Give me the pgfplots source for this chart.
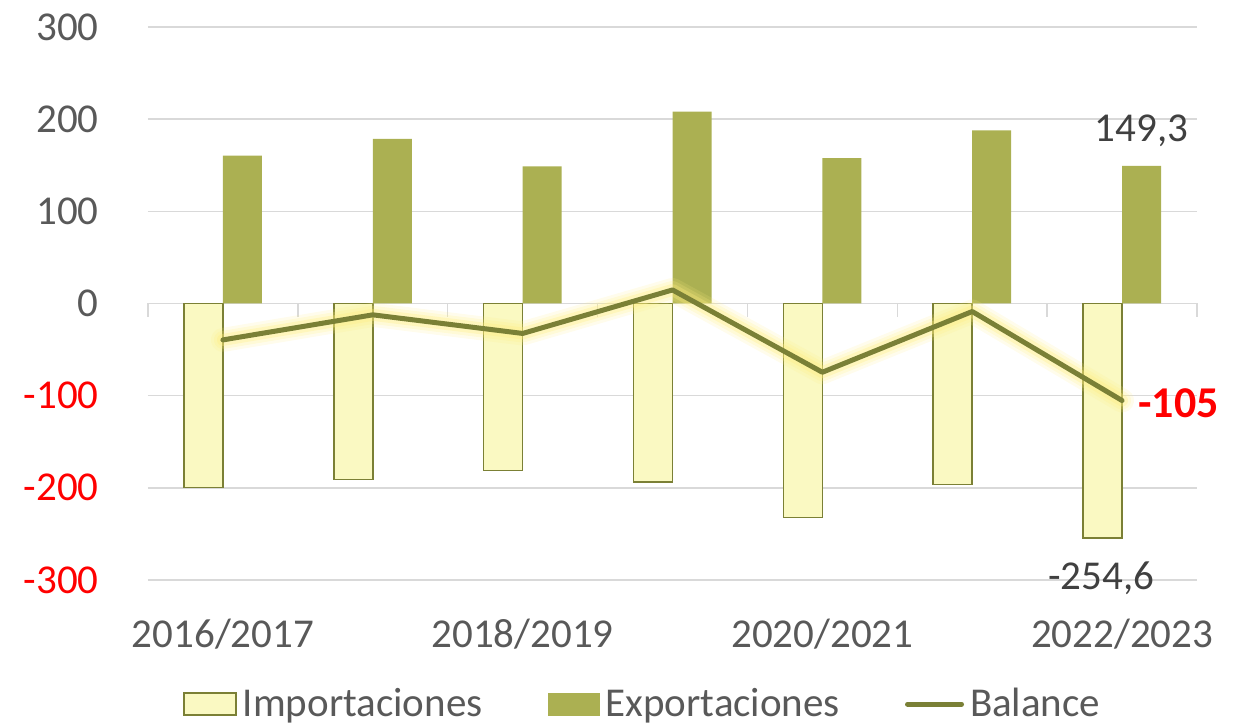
\documentclass[border=0pt]{standalone}
\usepackage{pgfplots}
\pgfplotsset{compat=1.18}
\usepackage{fontspec}
\setmainfont{Carlito}
\definecolor{expcol}{HTML}{ABB052}
\definecolor{impfill}{HTML}{FAF9C2}
\definecolor{impedge}{HTML}{7B8035}
\definecolor{balcol}{HTML}{7A8036}
\definecolor{glowcol}{HTML}{FFEE80}
\definecolor{gridgray}{HTML}{D9D9D9}
\definecolor{txtgray}{HTML}{595959}
\definecolor{lblgray}{HTML}{404040}
\newcommand\lbl{\fontsize{20.5pt}{24pt}\selectfont}
\begin{document}
\begin{tikzpicture}
\useasboundingbox (-74pt,-73pt) rectangle (550pt,290pt);
\begin{axis}[
  at={(0pt,0pt)}, anchor=south west,
  scale only axis, width=524.5pt, height=276.5pt,
  xmin=-0.5, xmax=6.5, ymin=-300, ymax=300,
  ytick={-300,-200,-100,0,100,200,300},
  yticklabels={\textcolor{red}{-300},\textcolor{red}{-200},\textcolor{red}{-100},0,100,200,300},
  xtick={0,2,4,6},
  xticklabels={2016/2017,2018/2019,2020/2021,2022/2023},
  major tick length=0pt,
  ymajorgrids, grid style={color=gridgray, line width=0.75pt},
  axis line style={draw=none},
  clip=false,
  tick label style={font=\lbl, text=txtgray},
  yticklabel style={anchor=east, inner sep=0pt, xshift=-24.5pt},
  xticklabel style={anchor=base, inner sep=0pt, yshift=-34pt},
  legend columns=3,
  legend style={draw=none, fill=none, font=\lbl, text=txtgray,
    at={(axis description cs:0.4705,-0.2245)}, anchor=center,
    nodes={inner sep=0pt},
    /tikz/every odd column/.append style={column sep=3pt},
    /tikz/every even column/.append style={column sep=32.5pt}},
]
\draw[gridgray, line width=0.75pt] (axis cs:-0.5,0) -- (axis cs:6.5,0);
\pgfplotsinvokeforeach{-0.5,0.5,1.5,2.5,3.5,4.5,5.5,6.5}{
  \draw[gridgray, line width=0.75pt] (axis cs:#1,0) -- ++(0pt,-7pt);
}
\addplot[ybar, bar width=19.5pt, bar shift=-9.75pt, fill=impfill, draw=impedge, line width=0.75pt,
  legend image code/.code={\draw[fill=impfill, draw=impedge, line width=1pt] (0pt,-5.5pt) rectangle (26pt,5.5pt);}]
  coordinates {(0,-199.8) (1,-191.0) (2,-181.3) (3,-193.5) (4,-232.4) (5,-196.4) (6,-254.6)};
\addlegendentry{Importaciones}
\addplot[ybar, bar width=19.5pt, bar shift=9.75pt, fill=expcol, draw=none,
  legend image code/.code={\fill[expcol] (0pt,-5.75pt) rectangle (26pt,5.75pt);}]
  coordinates {(0,160.3) (1,178.7) (2,148.8) (3,208.2) (4,157.8) (5,187.7) (6,149.3)};
\addlegendentry{Exportaciones}
\addplot[glowcol, opacity=0.15, line width=12pt, line join=round, line cap=round, forget plot]
  coordinates {(0,-39.5) (1,-12.3) (2,-32.5) (3,14.7) (4,-74.6) (5,-8.7) (6,-105.3)};
\addplot[glowcol, opacity=0.2, line width=9pt, line join=round, line cap=round, forget plot]
  coordinates {(0,-39.5) (1,-12.3) (2,-32.5) (3,14.7) (4,-74.6) (5,-8.7) (6,-105.3)};
\addplot[glowcol, opacity=0.3, line width=6pt, line join=round, line cap=round, forget plot]
  coordinates {(0,-39.5) (1,-12.3) (2,-32.5) (3,14.7) (4,-74.6) (5,-8.7) (6,-105.3)};
\addplot[balcol, line width=2.5pt, line join=round, line cap=round,
  legend image code/.code={\draw[balcol, line width=2.5pt, line cap=round] (0pt,0pt) -- (27pt,0pt);}]
  coordinates {(0,-39.5) (1,-12.3) (2,-32.5) (3,14.7) (4,-74.6) (5,-8.7) (6,-105.3)};
\addlegendentry{Balance}
\node[anchor=base, inner sep=0pt, xshift=9.75pt, yshift=12pt, font=\lbl, text=lblgray] at (axis cs:6,149.3) {149,3};
\node[anchor=base, inner sep=0pt, xshift=-10.5pt, yshift=-25.5pt, font=\lbl, text=lblgray] at (axis cs:6,-254.6) {-254,6};
\node[anchor=west, inner sep=0pt, xshift=8pt, yshift=-1.5pt, font=\fontsize{22pt}{26pt}\selectfont\bfseries, text=red] at (axis cs:6,-105.3) {-105};
\end{axis}
\end{tikzpicture}
\end{document}
